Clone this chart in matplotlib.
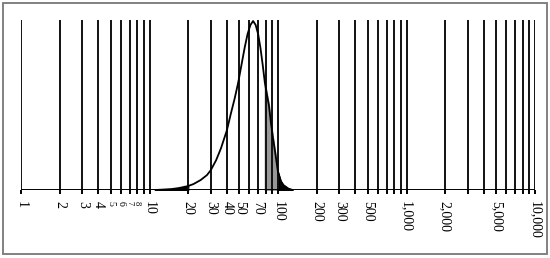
import matplotlib.pyplot as plt
from matplotlib.patches import Rectangle

plt.rcParams['font.family'] = 'Liberation Serif'
plt.rcParams['font.size'] = 10

# vertical reference lines (log grid 1..10,000)
grid = [1, 2, 3, 4, 5, 6, 7, 8, 9, 10,
        20, 30, 40, 50, 60, 70, 80, 90, 100,
        200, 300, 400, 500, 600, 700, 800, 900, 1000,
        2000, 3000, 4000, 5000, 6000, 7000, 8000, 9000, 10000]
labelled = {1: '1', 2: '2', 3: '3', 4: '4', 5: '5', 6: '6', 7: '7', 8: '8',
            10: '10', 20: '20', 30: '30', 40: '40', 50: '50', 70: '70',
            100: '100', 200: '200', 300: '300', 500: '500', 1000: '1,000',
            2000: '2,000', 5000: '5,000', 10000: '10,000'}
small = {5: 7, 6: 7, 7: 6, 8: 6}

# distribution curve (height in px of a 170 px tall plot)
size = [11, 13, 15, 17, 20, 22, 25, 28, 30, 33, 36, 40, 43, 46, 49, 52, 55,
        58, 61, 64, 67, 70, 73, 76, 79, 82, 85, 88, 91, 95, 100, 105, 110,
        120, 130]
height = [0, 0.5, 1, 2, 4, 6, 10, 15, 20, 30, 42, 60, 77, 92, 108, 126, 143,
          157, 166, 170, 166, 157, 143, 126, 108, 96, 85, 68, 54, 38, 18, 9, 5,
          1.5, 0]
height = [h / 171 for h in height]

fig = plt.figure(figsize=(5.5, 2.58), dpi=100)
ax = fig.add_axes([21 / 550, 68 / 258, 514 / 550, 170 / 258])

ax.vlines(grid, 0, 1, color='#111111', lw=1.4)
ax.plot(size, height, color='black', lw=1.3)

left = [i for i, s in enumerate(size) if s <= 20]
mid = [i for i, s in enumerate(size) if 79 <= s <= 100]
right = [i for i, s in enumerate(size) if s >= 100]
ax.fill_between([size[i] for i in left], [height[i] for i in left], color='black')
ax.fill_between([size[i] for i in mid], [height[i] for i in mid], color='#999999')
ax.fill_between([size[i] for i in right], [height[i] for i in right], color='black')

ax.set_xscale('log')
ax.set_xlim(1, 10000)
ax.set_ylim(0, 1)
ax.axhline(0, color='black', lw=1.4)
for s in ['top', 'right', 'left', 'bottom']:
    ax.spines[s].set_visible(False)
ax.set_yticks([])
ax.set_xticks(grid, [labelled.get(g, '') for g in grid], rotation=-90)
ax.minorticks_off()
ax.tick_params(axis='x', length=3, width=1.4, pad=5)
for g, lab in zip(grid, ax.get_xticklabels()):
    if g in small:
        lab.set_fontsize(small[g])

fig.patches.append(Rectangle((3 / 550, 4 / 258), 544 / 550, 251 / 258,
                             transform=fig.transFigure, fill=False,
                             edgecolor='#777777', lw=1.3))

plt.savefig('out.png', dpi=100)
